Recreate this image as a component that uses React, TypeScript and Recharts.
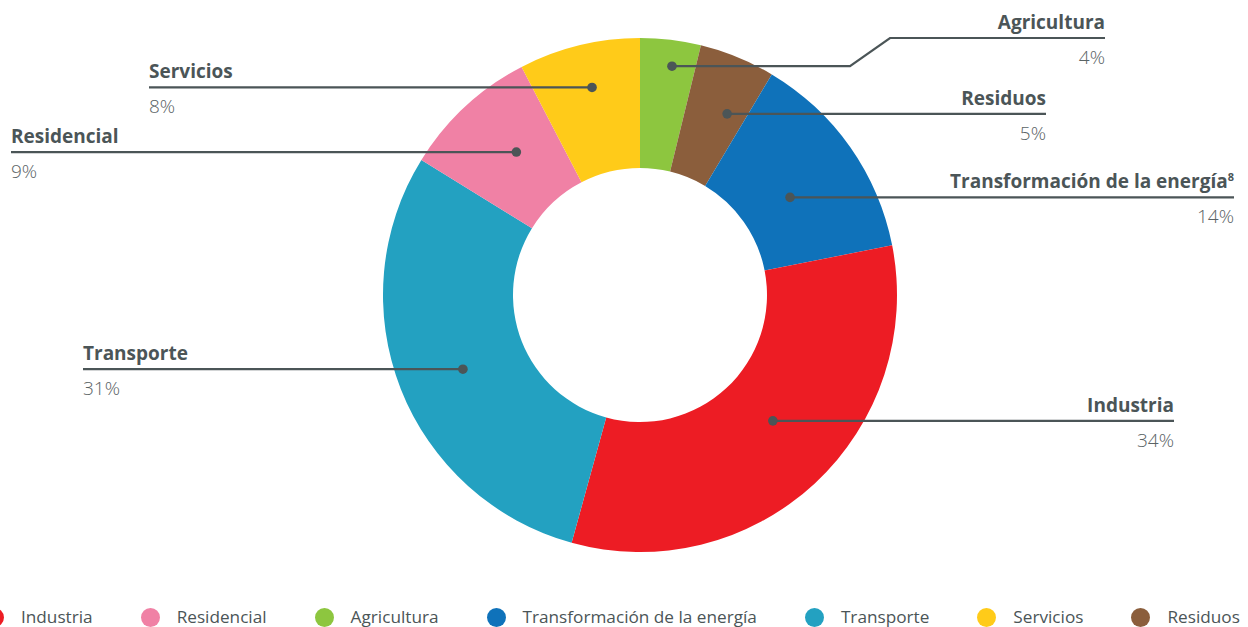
import React from 'react';
import { PieChart, Pie, Cell, Legend } from 'recharts';

const categories = ['Agricultura', 'Residuos', 'Transformación de la energía', 'Industria', 'Transporte', 'Residencial', 'Servicios'];
const values = [4, 5, 14, 34, 31, 9, 8];
const percentLabels = ['4%', '5%', '14%', '34%', '31%', '9%', '8%'];
const footnotes = ['', '', '8', '', '', '', ''];
const colors = ['#8DC63F', '#8B5E3C', '#0F72BA', '#ED1C24', '#23A1C1', '#F081A5', '#FFCB19'];
const legendOrder = ['Industria', 'Residencial', 'Agricultura', 'Transformación de la energía', 'Transporte', 'Servicios', 'Residuos'];

const data = categories.map((name, i) => ({ name, value: values[i], pct: percentLabels[i], note: footnotes[i], color: colors[i] }));

// label layout: dot radius, angle tweak, text end x, anchor, optional elbow
const labelLayout: any[] = [
  { r: 231, da: -1.1, textX: 1105, anchor: 'end', topY: 38, elbowX: 850, elbowTopX: 890 },
  { r: 201, da: -3.4, textX: 1046, anchor: 'end' },
  { r: 179, da: -2.1, textX: 1234, anchor: 'end' },
  { r: 183, da: 3.7, textX: 1174, anchor: 'end' },
  { r: 192, da: 1.3, textX: 83, anchor: 'start' },
  { r: 189, da: -2, textX: 11, anchor: 'start' },
  { r: 213, da: -0.7, textX: 149, anchor: 'start' },
];

const TEXT = '#4B5557';
const RAD = Math.PI / 180;
const FONT = '"Open Sans", Lato, sans-serif';

const renderLabel = (props: any) => {
  const { cx, cy, midAngle, index } = props;
  const L = labelLayout[index];
  const d = data[index];
  const a = (midAngle + L.da) * RAD;
  const dx = cx + L.r * Math.cos(a);
  const dy = cy - L.r * Math.sin(a);
  const lineY = L.topY !== undefined ? L.topY : dy;
  let path: string;
  if (L.topY !== undefined) {
    path = `M${dx},${dy} L${L.elbowX},${dy} L${L.elbowTopX},${L.topY} L${L.textX},${L.topY}`;
  } else {
    path = `M${dx},${dy} L${L.textX},${dy}`;
  }
  return (
    <g key={`lbl-${index}`}>
      <path d={path} stroke={TEXT} strokeWidth={2.2} fill="none" />
      <circle cx={dx} cy={dy} r={4.8} fill={TEXT} />
      <text x={L.textX} y={lineY - 9} textAnchor={L.anchor} fill={TEXT} fontFamily={FONT} fontWeight={700} fontSize={19}>
        {d.name}
        {d.note ? (
          <tspan fontSize={11} dy={-7}>{d.note}</tspan>
        ) : null}
      </text>
      <text x={L.textX} y={lineY + 26} textAnchor={L.anchor} fill="#5A6365" fontFamily={FONT} fontWeight={300} fontSize={19}>
        {d.pct}
      </text>
    </g>
  );
};

const renderLegend = () => (
  <div style={{ display: 'flex', alignItems: 'center', whiteSpace: 'nowrap', fontFamily: FONT, fontSize: 17.2, lineHeight: '20px', color: TEXT }}>
    {legendOrder.map((name) => {
      const d = data.find((e) => e.name === name)!;
      return (
        <div key={name} style={{ display: 'flex', alignItems: 'center', marginRight: 48 }}>
          <span style={{ width: 19, height: 19, borderRadius: 10, background: d.color, display: 'inline-block', marginRight: 17, flexShrink: 0 }} />
          <span>{name}</span>
        </div>
      );
    })}
  </div>
);

export default function App() {
  return (
    <div style={{ position: 'absolute', left: 0, top: 0, width: 1248, height: 627, background: '#fff', overflow: 'hidden' }}>
      <PieChart width={1248} height={627} margin={{ top: 0, right: 0, bottom: 0, left: 0 }}>
        <Pie
          data={data}
          dataKey="value"
          nameKey="name"
          cx={640}
          cy={295}
          innerRadius={127}
          outerRadius={257}
          startAngle={90}
          endAngle={-270}
          stroke="none"
          labelLine={false}
          label={renderLabel}
          isAnimationActive={false}
        >
          {data.map((d) => (
            <Cell key={d.name} fill={d.color} />
          ))}
        </Pie>
        <Legend content={renderLegend} wrapperStyle={{ position: 'absolute', left: -15, top: 607, width: 1300, bottom: 'auto' }} />
      </PieChart>
    </div>
  );
}
